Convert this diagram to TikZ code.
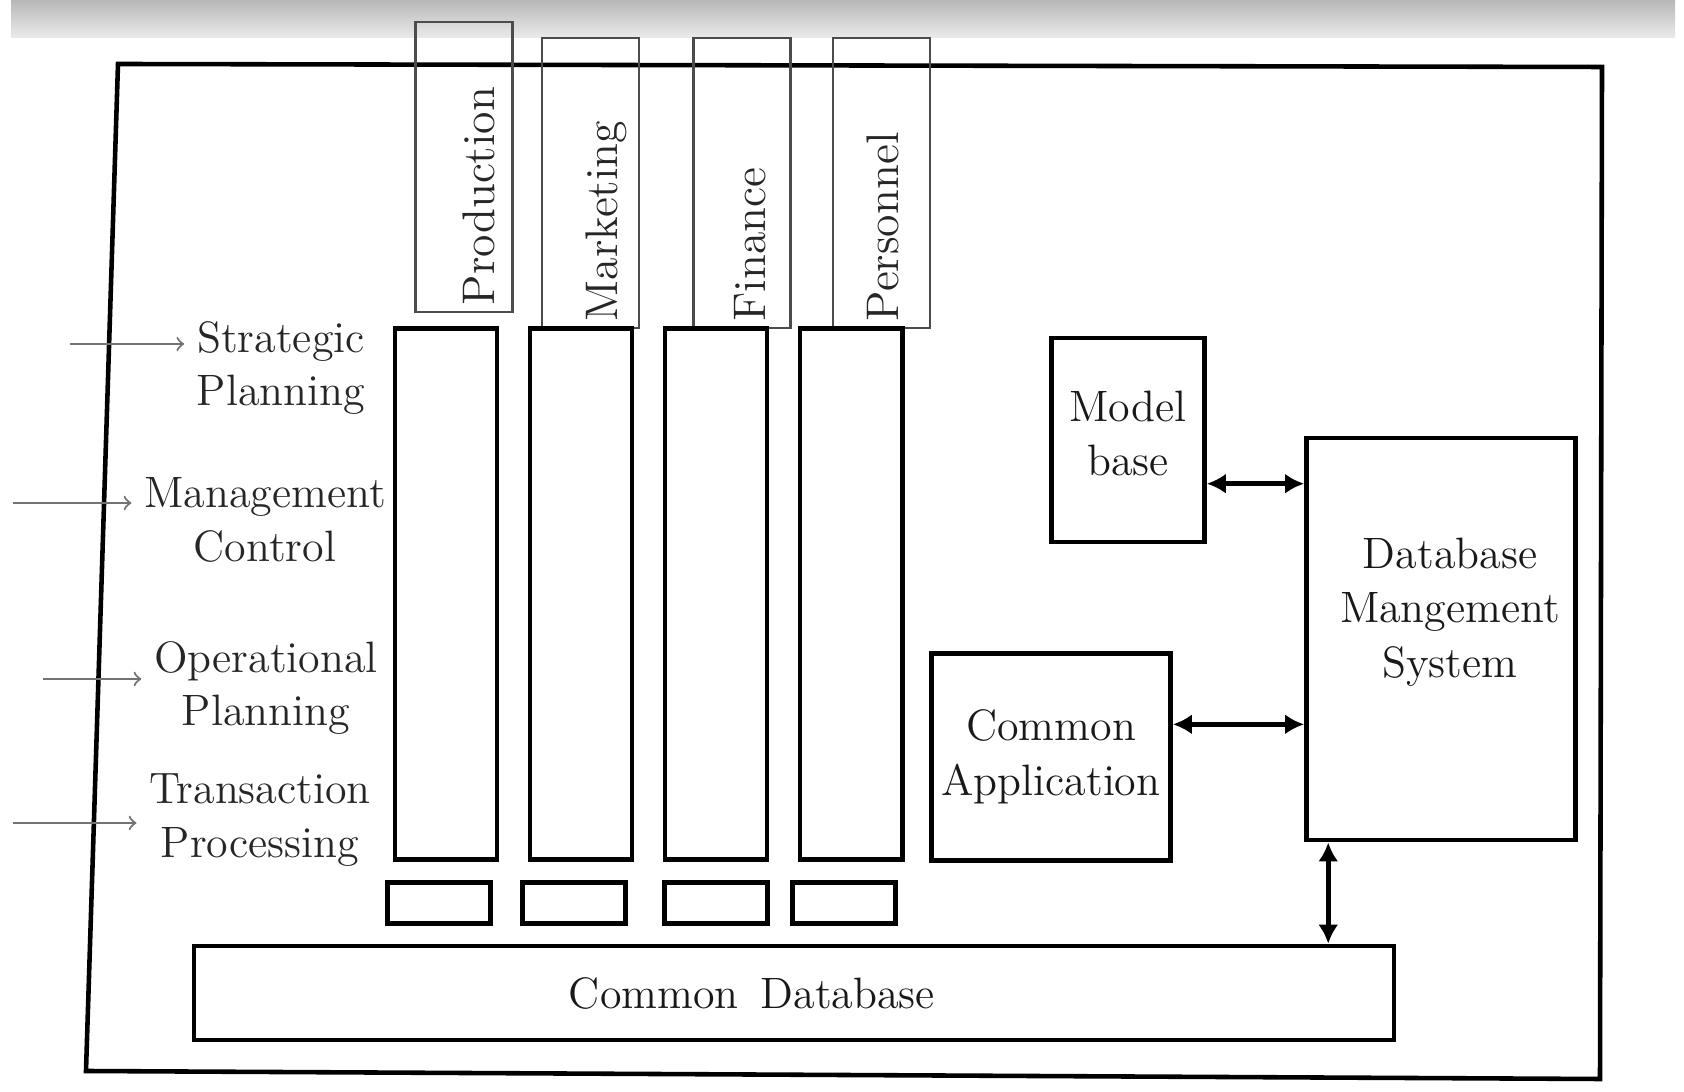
\documentclass[tikz,border=0pt]{standalone}
\usetikzlibrary{arrows,arrows.meta,positioning}

\begin{document}
\begin{tikzpicture}[x=0.01cm,y=-0.01cm,>=stealth',node distance=1.35cm,semithick]
  \tikzstyle{column}=[draw,line width=1.3pt,minimum width=1.02cm,minimum height=5.31cm,inner sep=0pt]
  \tikzstyle{slot}=[draw,line width=1.3pt,minimum width=1.03cm,minimum height=0.41cm,inner sep=0pt]
  \tikzstyle{head}=[draw=black!70,line width=0.7pt,minimum width=0.97cm,minimum height=2.9cm,inner sep=0pt]
  \tikzstyle{headtext}=[rotate=90,anchor=west,inner sep=2pt,text=black!85,font=\fontsize{13}{15}\selectfont]
  \tikzstyle{level}=[align=center,text=black!85,font=\fontsize{12.5}{15.3}\selectfont]
  \tikzstyle{box}=[draw,line width=1.3pt,align=center,inner sep=0pt,text=black!90,font=\fontsize{12.5}{15.5}\selectfont]
  \tikzstyle{inarrow}=[->,>=to,draw=black!55,line width=0.6pt]
  \tikzstyle{biarrow}=[{Latex[length=0.19cm,width=0.2cm]}-{Latex[length=0.19cm,width=0.2cm]},line width=1.3pt]

  \useasboundingbox (0,0) rectangle (1684,1092);
  % scanner edge
  \shade[top color=black!28,bottom color=black!8] (11,0) rectangle (1675,38);

  % outer frame
  \draw[line width=1.3pt] (118,64) -- (1602,67) -- (1600,1079) -- (86,1071) -- cycle;

  % functional areas
  \node[head] (hprod) at (464,167) {};
  \node[head] (hmark) [right=0.27cm of hprod,yshift=-0.16cm] {};
  \node[head] (hfin)  [right=0.52cm of hmark] {};
  \node[head] (hpers) [right=0.40cm of hfin] {};
  \node[headtext] (tprod) at ([xshift=0.15cm]hprod.south) {Production};
  \node[headtext] (tmark) at ([xshift=0.16cm]hmark.south) {Marketing};
  \node[headtext] (tfin)  at ([xshift=0.08cm]hfin.south)  {Finance};
  \node[headtext] (tpers) at ([xshift=0.01cm]hpers.south) {Personnel};

  % columns and their slots
  \node[column] (cprod) at (446,594) {};
  \node[column] (cmark) [right of=cprod] {};
  \node[column] (cfin)  [right of=cmark] {};
  \node[column] (cpers) [right of=cfin] {};
  \node[slot] (sprod) [below=0.18cm of cprod,xshift=-0.07cm] {};
  \node[slot] (smark) [below=0.18cm of cmark,xshift=-0.07cm] {};
  \node[slot] (sfin)  [below=0.18cm of cfin]  {};
  \node[slot] (spers) [below=0.18cm of cpers,xshift=-0.07cm] {};

  % management levels
  \node[level] (sp) at (281,368) {Strategic\\Planning};
  \node[level] (mc) at (265,520) {Management\\Control};
  \node[level] (op) at (266,688) {Operational\\Planning};
  \node[level] (tp) at (260,820) {Transaction\\Processing};
  \coordinate (isp) at (70,344);
  \coordinate (imc) at (13,503);
  \coordinate (iop) at (43,679);
  \coordinate (itp) at (13,823);
  \draw[inarrow] (isp) -- (isp -| sp.west);
  \draw[inarrow] (imc) -- (imc -| mc.west);
  \draw[inarrow] (iop) -- (iop -| op.west);
  \draw[inarrow] (itp) -- (itp -| tp.west);

  % data side
  \node[box,minimum width=1.53cm,minimum height=2.04cm] (mb) at (1128,440) {Model\\base\\[-0.41cm]};
  \node[box,minimum width=2.69cm,minimum height=4.02cm] (dbms) at (1441,639) {};
  \node[box,draw=none] (dbmstxt) at ([xshift=0.09cm,yshift=0.27cm]dbms.center) {Database\\Mangement\\System};
  \node[box,minimum width=2.39cm,minimum height=2.07cm] (ca) at (1051,757) {Common\\Application};
  \node[box,minimum width=11.99cm,minimum height=0.94cm] (cdb) at (794,993) {};
  \node[box,draw=none] (cdbtxt) at ([xshift=-0.42cm]cdb.center) {Common\enspace Database};

  \draw[biarrow] (mb.-29) -- (mb.-29 -| dbms.west);
  \draw[biarrow] (ca.15) -- (ca.15 -| dbms.west);
  \draw[biarrow] (dbms.-119) -- (dbms.-119 |- cdb.north);
\end{tikzpicture}
\end{document}
